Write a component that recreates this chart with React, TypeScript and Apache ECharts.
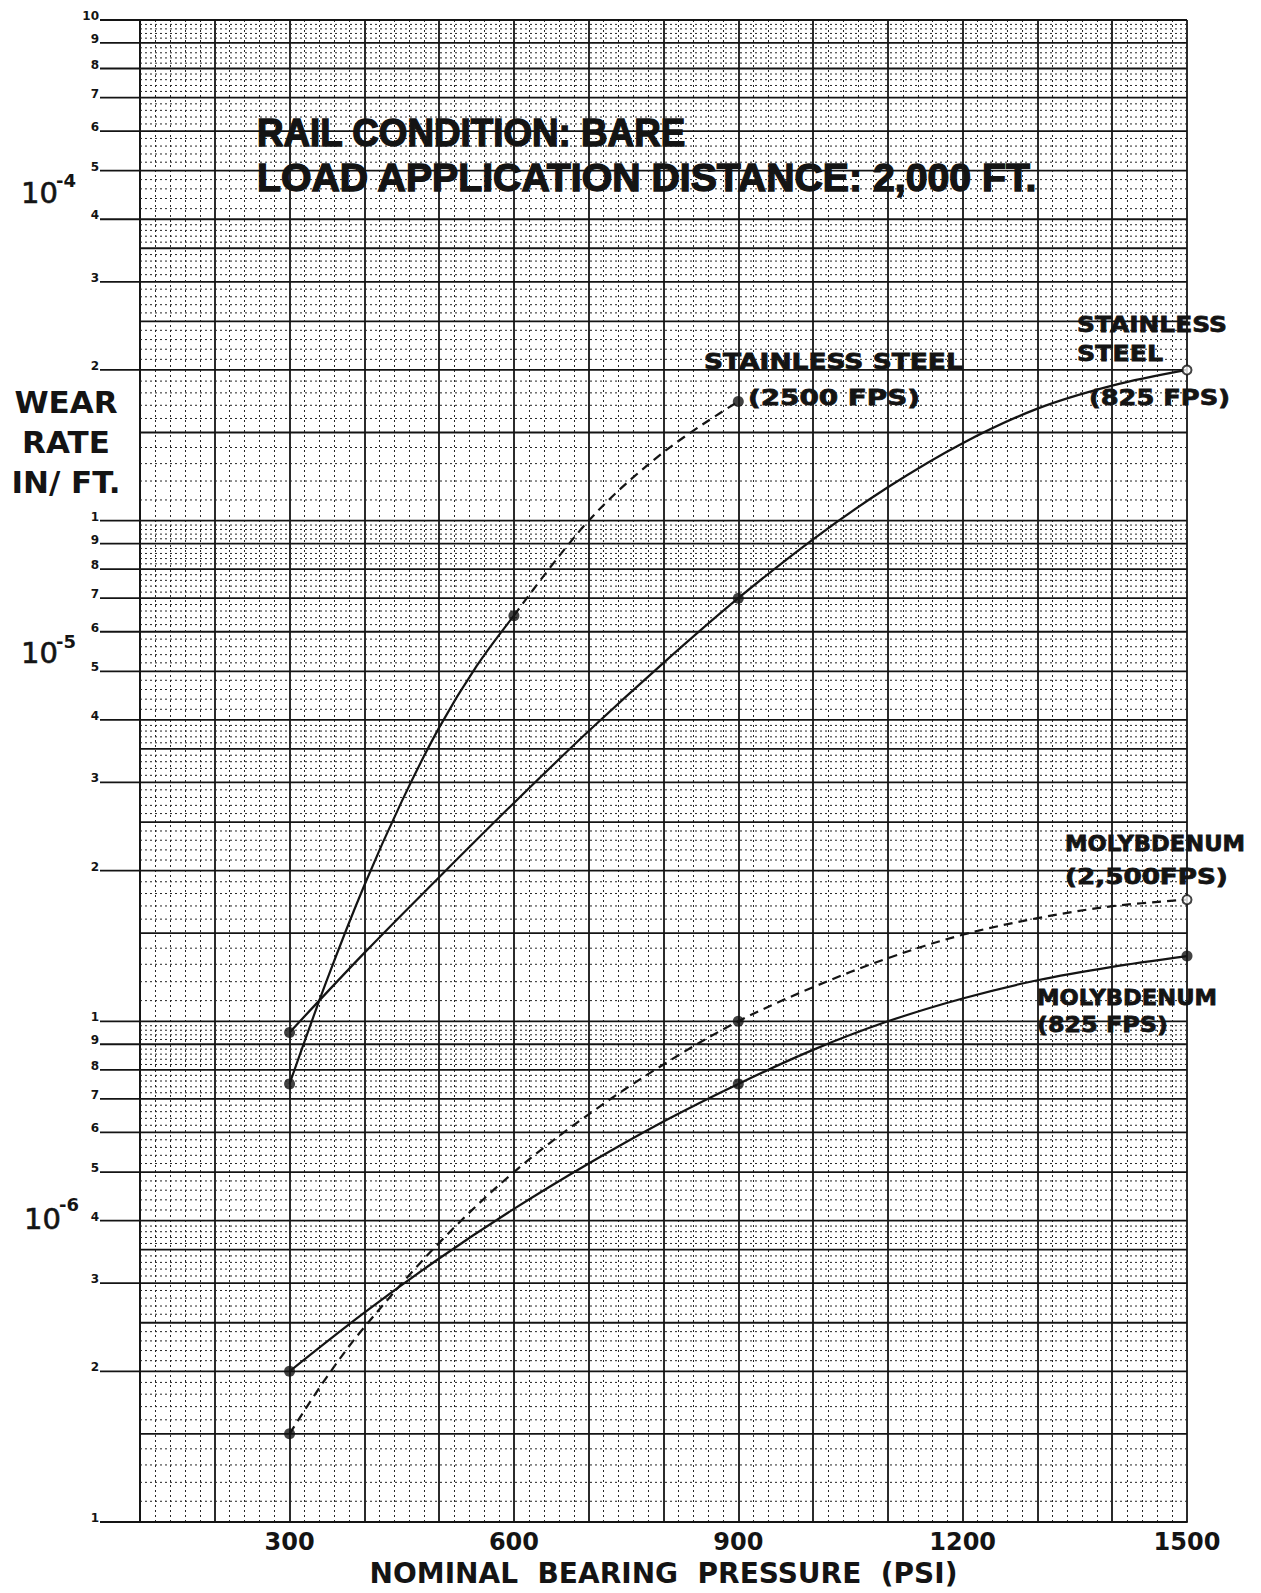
import React, { useEffect, useRef } from "react";
import * as echarts from "echarts";

// ---------------- DATA ----------------
const X_TICKS = [300, 600, 900, 1200, 1500];
const X_MIN = 100;
const X_MAX = 1500;
const DECADES = [-6, -5, -4];
const MAJOR_MANTISSAS = [1, 1.5, 2, 2.5, 3, 3.5, 4, 5, 6, 7, 8, 9];
const LABEL_MANTISSAS = [1, 2, 3, 4, 5, 6, 7, 8, 9];

// Stainless steel 2500 FPS (solid to 600 psi, dashed beyond)
const SS2500_SOLID_PSI = [300, 350, 400, 450, 500, 550, 600];
const SS2500_SOLID_RATE = [7.5e-6, 1.21e-5, 1.87e-5, 2.75e-5, 3.86e-5, 5.12e-5, 6.46e-5];
const SS2500_DASH_PSI = [600, 700, 800, 900];
const SS2500_DASH_RATE = [6.46e-5, 1.0e-4, 1.37e-4, 1.73e-4];
const SS2500_MARK_PSI = [300, 600, 900];
const SS2500_MARK_RATE = [7.5e-6, 6.46e-5, 1.73e-4];

// Stainless steel 825 FPS
const SS825_PSI = [300, 400, 500, 600, 700, 800, 900, 1000, 1100, 1200, 1300, 1400, 1500];
const SS825_RATE = [9.5e-6, 1.37e-5, 1.94e-5, 2.73e-5, 3.8e-5, 5.2e-5, 7.0e-5, 9.18e-5, 1.166e-4, 1.428e-4, 1.674e-4, 1.861e-4, 2.0e-4];
const SS825_MARK_PSI = [300, 900, 1500];
const SS825_MARK_RATE = [9.5e-6, 7.0e-5, 2.0e-4];

// Molybdenum 2500 FPS (dashed)
const MO2500_PSI = [300, 350, 400, 500, 600, 700, 800, 900, 1000, 1100, 1200, 1300, 1400, 1500];
const MO2500_RATE = [1.5e-6, 1.95e-6, 2.45e-6, 3.61e-6, 5.0e-6, 6.52e-6, 8.2e-6, 1.0e-5, 1.17e-5, 1.337e-5, 1.489e-5, 1.607e-5, 1.698e-5, 1.75e-5];
const MO2500_MARK_PSI = [300, 900, 1500];
const MO2500_MARK_RATE = [1.5e-6, 1.0e-5, 1.75e-5];

// Molybdenum 825 FPS
const MO825_PSI = [300, 400, 500, 600, 700, 800, 900, 1000, 1100, 1200, 1300, 1400, 1500];
const MO825_RATE = [2.0e-6, 2.62e-6, 3.36e-6, 4.22e-6, 5.2e-6, 6.31e-6, 7.5e-6, 8.77e-6, 1.0e-5, 1.111e-5, 1.208e-5, 1.285e-5, 1.35e-5];
const MO825_MARK_PSI = [300, 900, 1500];
const MO825_MARK_RATE = [2.0e-6, 7.5e-6, 1.35e-5];

// ---------------- STYLE ----------------
const INK = "#141414";
const MINOR_INK = "#262626";
const LABEL_FONT = '"DejaVu Sans", sans-serif';
const LETTER_FONT = '"Liberation Sans", Arial, sans-serif';

const zip = (xs: number[], ys: number[]) => xs.map((x, i) => [x, ys[i]]);

function buildHLines() {
  const out: number[][] = [];
  for (const d of DECADES) {
    const base = Math.pow(10, d);
    for (const m of MAJOR_MANTISSAS) out.push([X_MIN, m * base, 1]);
    for (let k = 11; k < 40; k++) if (k % 5 !== 0) out.push([X_MIN, (k / 10) * base, 0]);
    for (let k = 42; k < 100; k += 2) if (k % 10 !== 0) out.push([X_MIN, (k / 10) * base, 0]);
  }
  out.push([X_MIN, 1e-3, 1]);
  return out;
}

function buildYLabels() {
  const out: number[][] = [];
  for (const d of DECADES) {
    const base = Math.pow(10, d);
    for (const m of LABEL_MANTISSAS) out.push([X_MIN, m * base, m]);
  }
  out.push([X_MIN, 1e-3, 10]);
  return out;
}

let measureCtx: CanvasRenderingContext2D | null = null;
function textWidth(text: string, font: string) {
  if (!measureCtx) measureCtx = document.createElement("canvas").getContext("2d");
  if (!measureCtx) return 1;
  measureCtx.font = font;
  return measureCtx.measureText(text).width || 1;
}

// annotation texts: left x, centre y, target width
const ANNOTATIONS = [
  { text: "RAIL CONDITION: BARE", x: 257, y: 133, w: 429, font: `bold 39px ${LETTER_FONT}`, sw: 1.4 },
  { text: "LOAD APPLICATION DISTANCE: 2,000 FT.", x: 257, y: 178, w: 781, font: `bold 39px ${LETTER_FONT}`, sw: 1.4 },
  { text: "STAINLESS STEEL", x: 704, y: 361, w: 259, font: `bold 22px ${LABEL_FONT}`, sw: 0.8 },
  { text: "(2500 FPS)", x: 748, y: 398, w: 172, font: `bold 22px ${LABEL_FONT}`, sw: 0.8 },
  { text: "STAINLESS", x: 1077, y: 325, w: 150, font: `bold 22px ${LABEL_FONT}`, sw: 0.8 },
  { text: "STEEL", x: 1077, y: 354, w: 86, font: `bold 22px ${LABEL_FONT}`, sw: 0.8 },
  { text: "(825 FPS)", x: 1089, y: 398, w: 141, font: `bold 22px ${LABEL_FONT}`, sw: 0.8 },
  { text: "MOLYBDENUM", x: 1065, y: 843, w: 180, font: `bold 22px ${LABEL_FONT}`, sw: 0.8 },
  { text: "(2,500FPS)", x: 1065, y: 877, w: 163, font: `bold 22px ${LABEL_FONT}`, sw: 0.8 },
  { text: "MOLYBDENUM", x: 1037, y: 997, w: 180, font: `bold 22px ${LABEL_FONT}`, sw: 0.8 },
  { text: "(825 FPS)", x: 1037, y: 1024, w: 131, font: `bold 22px ${LABEL_FONT}`, sw: 0.8 },
];

const DECADE_LABELS = [
  { exp: "-4", x: 21, y: 193, sy: 180 },
  { exp: "-5", x: 21, y: 653, sy: 641 },
  { exp: "-6", x: 24, y: 1219, sy: 1204 },
];

function markerData(xs: number[], ys: number[], openLast: boolean) {
  return xs.map((x, i) => {
    const open = openLast && i === xs.length - 1;
    return open
      ? { value: [x, ys[i]], symbolSize: 9, itemStyle: { color: "#fff", borderColor: INK, borderWidth: 2 } }
      : { value: [x, ys[i]], symbolSize: 11, itemStyle: { color: INK } };
  });
}

function curve(name: string, xs: number[], ys: number[], dashed: boolean) {
  return {
    name,
    type: "line",
    z: 5,
    smooth: 0.35,
    symbol: "none",
    data: zip(xs, ys),
    lineStyle: { color: INK, width: 2.2, type: dashed ? [9, 6] : "solid" },
  };
}

export default function App() {
  const ref = useRef<HTMLDivElement>(null);

  useEffect(() => {
    if (!ref.current) return;
    const chart = echarts.init(ref.current, undefined, { renderer: "svg" });

    const graphics: any[] = [];
    for (const a of ANNOTATIONS) {
      const s = a.w / textWidth(a.text, a.font);
      graphics.push({
        type: "text",
        x: a.x,
        y: a.y,
        scaleX: s,
        z: 20,
        style: {
          text: a.text,
          font: a.font,
          fill: INK,
          stroke: INK,
          lineWidth: a.sw,
          align: "left",
          verticalAlign: "middle",
        },
      });
    }
    for (const d of DECADE_LABELS) {
      graphics.push({
        type: "text",
        x: d.x,
        y: d.y,
        style: { text: "10", font: `29px ${LABEL_FONT}`, fill: INK, stroke: INK, lineWidth: 0.6, align: "left", verticalAlign: "middle" },
      });
      graphics.push({
        type: "text",
        x: d.x + 35,
        y: d.sy,
        style: { text: d.exp, font: `bold 18px ${LABEL_FONT}`, fill: INK, align: "left", verticalAlign: "middle" },
      });
    }
    graphics.push({
      type: "text",
      x: 66,
      y: 442,
      style: {
        text: "WEAR\nRATE\nIN/ FT.",
        font: `bold 31px ${LABEL_FONT}`,
        lineHeight: 40,
        fill: INK,
        align: "center",
        verticalAlign: "middle",
      },
    });

    const option: any = {
      animation: false,
      backgroundColor: "#fff",
      grid: { left: 140, right: 74, top: 20, bottom: 71, containLabel: false, outerBoundsMode: "none" },
      xAxis: {
        type: "value",
        min: X_MIN,
        max: X_MAX,
        interval: 100,
        name: "NOMINAL  BEARING  PRESSURE  (PSI)",
        nameLocation: "middle",
        nameGap: 37,
        nameTextStyle: { fontFamily: "DejaVu Sans", fontWeight: "bold", fontSize: 28, color: INK },
        axisLine: { show: true, lineStyle: { color: INK, width: 2 } },
        axisTick: { show: false },
        axisLabel: {
          margin: 8,
          fontFamily: "DejaVu Sans",
          fontWeight: "bold",
          fontSize: 24,
          color: INK,
          formatter: (v: number) => (X_TICKS.indexOf(v) >= 0 ? String(v) : ""),
        },
        splitLine: { show: true, lineStyle: { color: INK, width: 1.8 } },
        minorTick: { show: false, splitNumber: 5 },
        minorSplitLine: { show: true, lineStyle: { color: MINOR_INK, width: 1, type: [2, 3] } },
      },
      yAxis: {
        type: "log",
        logBase: 10,
        min: 1e-6,
        max: 1e-3,
        axisLine: { show: true, lineStyle: { color: INK, width: 2 } },
        axisTick: { show: false },
        axisLabel: { show: false },
        splitLine: { show: false },
      },
      graphic: graphics,
      series: [
        {
          type: "custom",
          silent: true,
          z: 1,
          encode: { x: 0, y: 1 },
          data: buildHLines(),
          renderItem: (_p: any, api: any) => {
            const v = api.value(1);
            const major = api.value(2) === 1;
            const a = api.coord([X_MIN, v]);
            const b = api.coord([X_MAX, v]);
            return {
              type: "line",
              shape: { x1: a[0], y1: a[1], x2: b[0], y2: b[1] },
              style: major
                ? { stroke: INK, lineWidth: 1.8 }
                : { stroke: MINOR_INK, lineWidth: 1, lineDash: [2, 3] },
            };
          },
        },
        {
          type: "custom",
          silent: true,
          z: 2,
          clip: false,
          encode: { x: 0, y: 1 },
          data: buildYLabels(),
          renderItem: (_p: any, api: any) => {
            const v = api.value(1);
            const m = api.value(2);
            const p = api.coord([X_MIN, v]);
            return {
              type: "group",
              children: [
                { type: "line", shape: { x1: p[0] - 40, y1: p[1], x2: p[0], y2: p[1] }, style: { stroke: INK, lineWidth: 1.8 } },
                {
                  type: "text",
                  style: {
                    text: String(m),
                    x: p[0] - 41,
                    y: p[1] + 2,
                    align: "right",
                    verticalAlign: "bottom",
                    font: `bold 12px ${LABEL_FONT}`,
                    fill: INK,
                  },
                },
              ],
            };
          },
        },
        curve("Stainless steel 2500 FPS", SS2500_SOLID_PSI, SS2500_SOLID_RATE, false),
        curve("Stainless steel 2500 FPS (dashed)", SS2500_DASH_PSI, SS2500_DASH_RATE, true),
        curve("Stainless steel 825 FPS", SS825_PSI, SS825_RATE, false),
        curve("Molybdenum 2500 FPS", MO2500_PSI, MO2500_RATE, true),
        curve("Molybdenum 825 FPS", MO825_PSI, MO825_RATE, false),
        { type: "scatter", z: 6, symbol: "circle", data: markerData(SS2500_MARK_PSI, SS2500_MARK_RATE, false) },
        { type: "scatter", z: 6, symbol: "circle", data: markerData(SS825_MARK_PSI, SS825_MARK_RATE, true) },
        { type: "scatter", z: 6, symbol: "circle", data: markerData(MO2500_MARK_PSI, MO2500_MARK_RATE, true) },
        { type: "scatter", z: 6, symbol: "circle", data: markerData(MO825_MARK_PSI, MO825_MARK_RATE, false) },
      ],
    };

    chart.setOption(option);
    return () => chart.dispose();
  }, []);

  return (
    <div
      ref={ref}
      style={{ position: "absolute", left: 0, top: 0, width: 1261, height: 1593, background: "#fff" }}
    />
  );
}
